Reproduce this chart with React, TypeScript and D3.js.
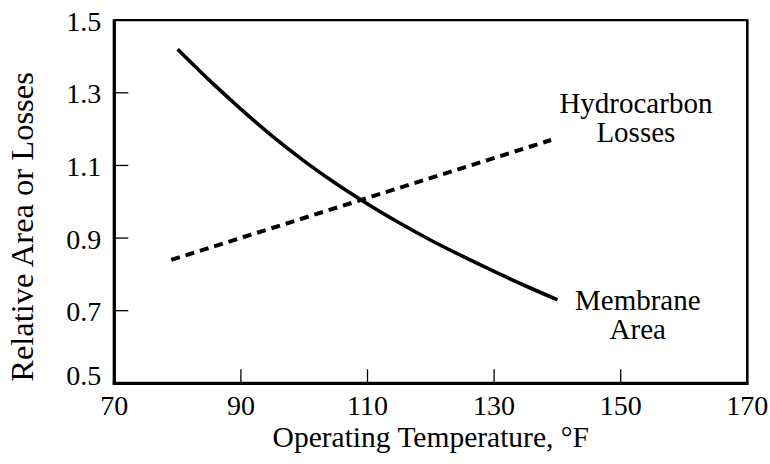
import * as d3 from 'd3'

// Membrane Area curve
const membraneTemp = [80, 85, 90, 95, 100, 105, 110, 115, 120, 125, 130, 135, 140]
const membraneArea = [1.42, 1.335, 1.255, 1.18, 1.112, 1.05, 0.994, 0.942, 0.894, 0.85, 0.808, 0.768, 0.73]

// Hydrocarbon Losses line
const lossTemp = [79, 139]
const lossValue = [0.84, 1.17]

const xTicks = [70, 90, 110, 130, 150, 170]
const yTicks = [0.5, 0.7, 0.9, 1.1, 1.3, 1.5]

const labels = [
  { lines: ['Hydrocarbon', 'Losses'], temp: 152.4, value: 1.245 },
  { lines: ['Membrane', 'Area'], temp: 152.7, value: 0.701 },
]

const W = 770
const H = 464
const FONT = '"Liberation Serif", "Times New Roman", serif'

export default function App() {
  const x = d3.scaleLinear().domain([70, 170]).range([114.3, 747.3])
  const y = d3.scaleLinear().domain([0.5, 1.5]).range([383.3, 20.2])

  const line = d3.line<[number, number]>()
    .x(d => x(d[0]))
    .y(d => y(d[1]))

  const membranePath = line.curve(d3.curveMonotoneX)(membraneTemp.map((t, i) => [t, membraneArea[i]]))
  const lossPath = d3.line<[number, number]>()
    .x(d => x(d[0]))
    .y(d => y(d[1]))(lossTemp.map((t, i) => [t, lossValue[i]]))

  const [x0, x1] = x.range()
  const [y0, y1] = y.range()

  return (
    <svg width={W} height={H} style={{ position: 'absolute', left: 0, top: 0, background: '#fff' }} fontFamily={FONT}>
      {/* ticks (inward) */}
      {yTicks.slice(1, -1).map(v => (
        <line key={'yt' + v} x1={x0} x2={x0 + 14} y1={y(v)} y2={y(v)} stroke="#000" strokeWidth={1.3} />
      ))}
      {xTicks.slice(1, -1).map(v => (
        <line key={'xt' + v} x1={x(v)} x2={x(v)} y1={y0} y2={y0 - 14} stroke="#000" strokeWidth={1.3} />
      ))}

      {/* frame */}
      <line x1={x0} x2={x1} y1={y1} y2={y1} stroke="#000" strokeWidth={2.3} />
      <line x1={x1} x2={x1} y1={y1 - 1} y2={y0} stroke="#000" strokeWidth={2.6} />
      <line x1={x0} x2={x0} y1={y1 - 1} y2={y0 + 1.5} stroke="#000" strokeWidth={3.3} />
      <line x1={x0 - 1.5} x2={x1 + 1.3} y1={y0} y2={y0} stroke="#000" strokeWidth={3.3} />

      {/* tick labels */}
      {yTicks.map(v => (
        <text key={'yl' + v} x={x0 - 13} y={Math.min(y(v) + 10.5, y0 + 2)} textAnchor="end" fontSize={28} fill="#000">
          {v.toFixed(1)}
        </text>
      ))}
      {xTicks.map(v => (
        <text key={'xl' + v} x={x(v)} y={415} textAnchor="middle" fontSize={28} fill="#000">
          {v}
        </text>
      ))}

      {/* axis titles */}
      <text x={(x0 + x1) / 2} y={446.5} textAnchor="middle" fontSize={29.5} fill="#000">
        Operating Temperature, °F
      </text>
      <text transform="translate(33,227) rotate(-90)" textAnchor="middle" fontSize={32.5} fill="#000">
        Relative Area or Losses
      </text>

      {/* series */}
      <path d={membranePath ?? ''} fill="none" stroke="#000" strokeWidth={3.6} />
      <path d={lossPath ?? ''} fill="none" stroke="#000" strokeWidth={4} strokeDasharray="9 6" />

      {/* labels */}
      {labels.map(l => (
        <text key={l.lines[0]} x={x(l.temp)} y={y(l.value)} textAnchor="middle" fontSize={29} fill="#000">
          {l.lines.map((s, i) => (
            <tspan key={s} x={x(l.temp)} dy={i === 0 ? 0 : 29}>{s}</tspan>
          ))}
        </text>
      ))}
    </svg>
  )
}
